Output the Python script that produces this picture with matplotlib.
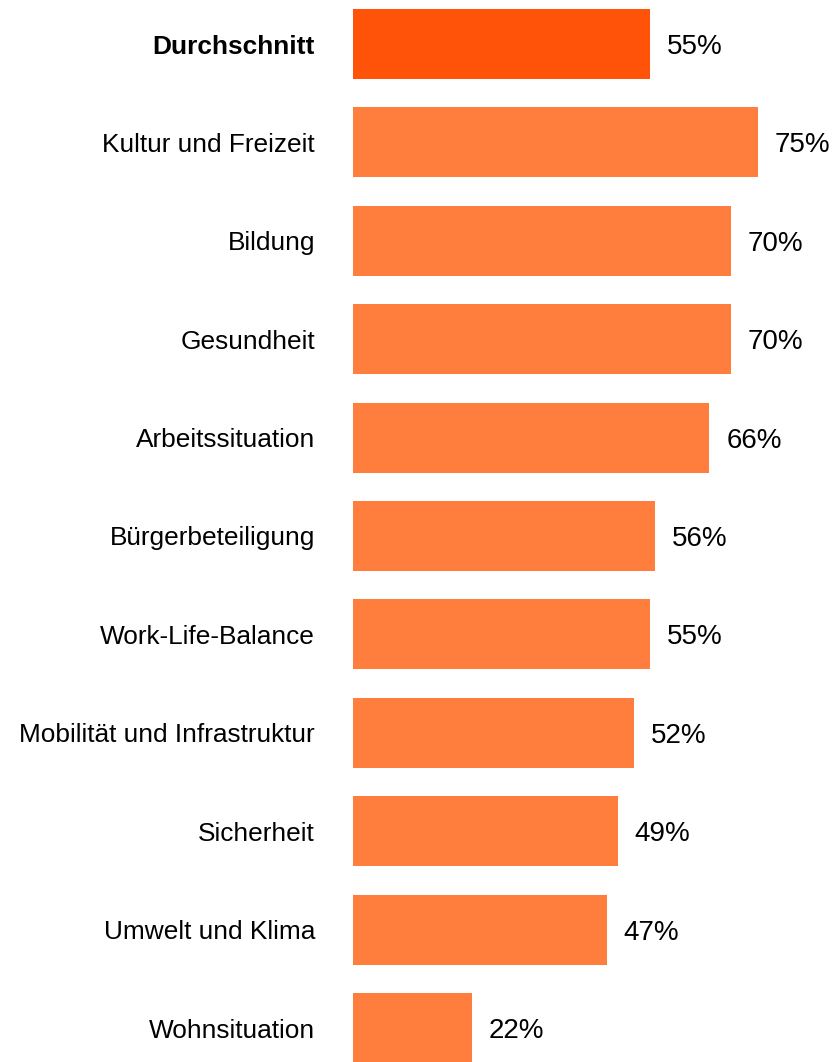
import matplotlib
matplotlib.use("Agg")
import matplotlib.pyplot as plt

categories = ["Durchschnitt", "Kultur und Freizeit", "Bildung", "Gesundheit",
              "Arbeitssituation", "Bürgerbeteiligung", "Work-Life-Balance",
              "Mobilität und Infrastruktur", "Sicherheit", "Umwelt und Klima",
              "Wohnsituation"]
values = [55, 75, 70, 70, 66, 56, 55, 52, 49, 47, 22]

DARK = "#FF5309"
LIGHT = "#FF7E3D"
plt.rcParams.update({"font.family": ["Liberation Sans", "DejaVu Sans"]})

W, H = 838, 1062
fig = plt.figure(figsize=(W / 100, H / 100), dpi=100, facecolor="white")
left_px = 353
ax = fig.add_axes([left_px / W, 0, (W - left_px) / W, 1])
ax.set_xlim(0, (W - left_px) / 5.4)
# first bar centre at 44 px from top, spacing 98.4 px
ax.set_ylim((H - 44) / 98.4, -44 / 98.4)

y = list(range(len(categories)))
colors = [DARK] + [LIGHT] * (len(categories) - 1)
ax.barh(y, values, height=0.71, color=colors, edgecolor="none")

for yi, v in zip(y, values):
    ax.annotate(f"{v}%", xy=(v, yi), xytext=(12.2, 0), textcoords="offset points",
                ha="left", va="center_baseline", fontsize=20, color="black",
                annotation_clip=False)

ax.set_yticks(y)
ax.set_yticklabels(categories, fontsize=18.9, color="black")
ax.get_yticklabels()[0].set_fontweight("bold")
ax.tick_params(axis="y", length=0, pad=27.4)
ax.set_xticks([])
for s in ax.spines.values():
    s.set_visible(False)

fig.savefig("out.png", dpi=100, facecolor="white")
